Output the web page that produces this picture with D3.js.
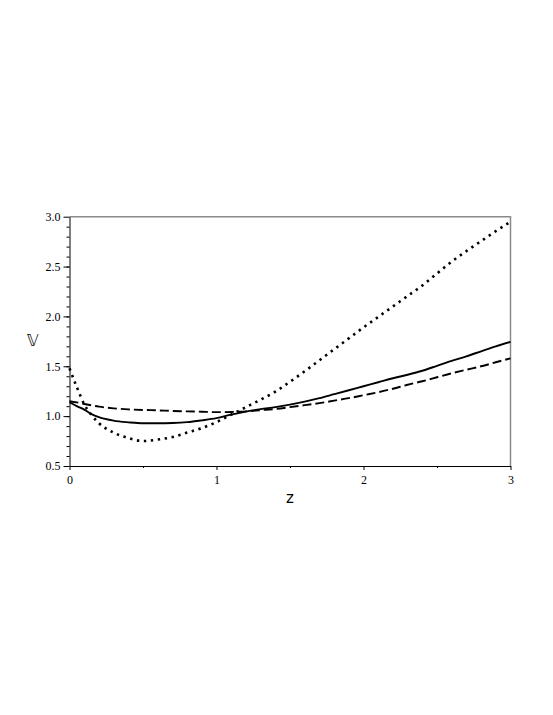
<!DOCTYPE html>
<html>
<head>
<meta charset="utf-8">
<script src="https://cdn.jsdelivr.net/npm/d3@7"></script>
<style>
  body { margin: 0; background: #fff; }
</style>
</head>
<body>
<svg id="chart" width="553" height="715"></svg>
<script>
/* z values along the horizontal axis */
var zValues = [0, 0.05, 0.1, 0.15, 0.2, 0.3, 0.4, 0.5, 0.6, 0.7, 0.8, 0.9, 1.0,
    1.1, 1.2, 1.3, 1.4, 1.5, 1.6, 1.7, 1.8, 1.9, 2.0, 2.1, 2.2, 2.3, 2.4,
    2.5, 2.6, 2.7, 2.8, 2.9, 3.0];

/* The three curves */
var solidV = [1.14, 1.10, 1.065, 1.02, 0.99, 0.955, 0.938, 0.928, 0.928, 0.931, 0.94, 0.958, 0.98,
    1.015, 1.045, 1.07, 1.09, 1.115, 1.145, 1.18, 1.22, 1.26, 1.30, 1.34, 1.38, 1.415, 1.455,
    1.505, 1.555, 1.60, 1.65, 1.70, 1.745];
var dashedV = [1.15, 1.138, 1.122, 1.108, 1.095, 1.078, 1.068, 1.062, 1.058, 1.052, 1.048, 1.044, 1.04,
    1.042, 1.048, 1.06, 1.072, 1.09, 1.11, 1.13, 1.155, 1.18, 1.21, 1.24, 1.275, 1.315, 1.35,
    1.39, 1.43, 1.465, 1.50, 1.54, 1.58];
var dottedV = [1.48, 1.29, 1.12, 1.01, 0.93, 0.835, 0.78, 0.75, 0.765, 0.79, 0.835, 0.88, 0.94,
    1.015, 1.09, 1.165, 1.245, 1.345, 1.45, 1.56, 1.67, 1.78, 1.89, 1.995, 2.10, 2.205, 2.31,
    2.43, 2.55, 2.655, 2.755, 2.855, 2.95];

/* Tick values */
var xMajor = [0, 1, 2, 3];
var xMinor = [0.5, 1.5, 2.5];
var yMajor = [0.5, 1.0, 1.5, 2.0, 2.5, 3.0];
var yMinor = d3.range(6, 30).map(function(i) { return i / 10; });

var svg = d3.select("#chart");

var x = d3.scaleLinear().domain([0, 3]).range([69.5, 510.5]);
var y = d3.scaleLinear().domain([0.5, 3]).range([466, 216.7]);

// Gray frame on top and right
svg.append("path")
    .attr("d", "M" + x(0) + "," + y(3) + "H" + x(3) + "V" + y(0.5))
    .attr("fill", "none")
    .attr("stroke", "#8a8a8a")
    .attr("stroke-width", 1.5);

// minor ticks
svg.append("g")
    .attr("transform", "translate(" + x(0) + ",0)")
    .call(d3.axisLeft(y).tickValues(yMinor).tickSize(3).tickFormat(""))
    .call(function(g) { g.select(".domain").remove(); });
svg.append("g")
    .attr("transform", "translate(0," + y(0.5) + ")")
    .call(d3.axisBottom(x).tickValues(xMinor).tickSize(2).tickFormat(""))
    .call(function(g) { g.select(".domain").remove(); });

// styles the tick labels like the original serif ones
var serifFont = "'Liberation Serif', 'DejaVu Serif', 'Times New Roman', serif";
function serifLabels(g) {
    g.attr("font-family", null).attr("font-size", null);
    g.selectAll("text")
        .style("font-family", serifFont)
        .style("font-size", "12px")
        .attr("fill", "#000");
}

// y-axis
svg.append("g")
    .attr("transform", "translate(" + x(0) + ",0)")
    .call(d3.axisLeft(y).tickValues(yMajor).tickSize(6).tickPadding(3).tickSizeOuter(0).tickFormat(d3.format(".1f")))
    .call(serifLabels);

// x-axis
svg.append("g")
    .attr("transform", "translate(0," + y(0.5) + ")")
    .call(d3.axisBottom(x).tickValues(xMajor).tickSize(4).tickPadding(5).tickSizeOuter(0).tickFormat(d3.format("d")))
    .call(serifLabels);

// the curves
var series = [
    { values: solidV, dash: null, width: 1.9 },
    { values: dashedV, dash: "9,4", width: 1.9 },
    { values: dottedV, dash: "2.4,4.6", width: 2.6 }
];

var line = d3.line()
    .x(function(d) { return x(d[0]); })
    .y(function(d) { return y(d[1]); })
    .curve(d3.curveMonotoneX);

series.forEach(function(s) {
    svg.append("path")
        .datum(zValues.map(function(z, i) { return [z, s.values[i]]; }))
        .attr("fill", "none")
        .attr("stroke", "#000")
        .attr("stroke-width", s.width)
        .attr("stroke-dasharray", s.dash)
        .attr("d", line);
});

// Axis labels
svg.append("text")
    .attr("x", 290)
    .attr("y", 502.7)
    .attr("text-anchor", "middle")
    .style("font-family", "DejaVu Sans, sans-serif")
    .style("font-size", "15px")
    .text("z");

svg.append("text")
    .attr("x", 32.7)
    .attr("y", 345.5)
    .attr("text-anchor", "middle")
    .style("font-family", "DejaVu Sans, sans-serif")
    .style("font-size", "16px")
    .text("𝕍");
</script>
</body>
</html>
